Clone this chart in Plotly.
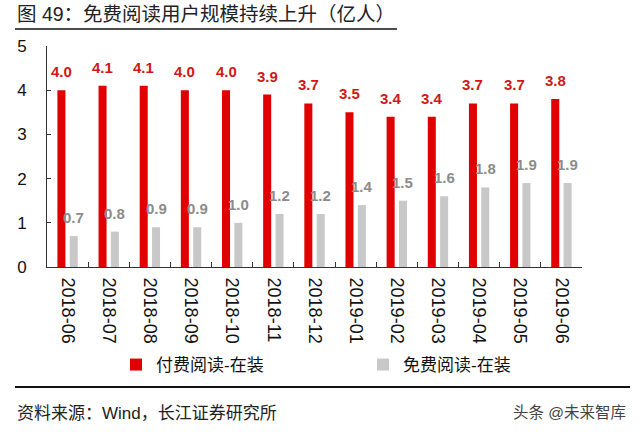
import plotly.graph_objects as go

categories = ["2018-06", "2018-07", "2018-08", "2018-09", "2018-10", "2018-11", "2018-12",
              "2019-01", "2019-02", "2019-03", "2019-04", "2019-05", "2019-06"]
paid_values = [4.0, 4.1, 4.1, 4.0, 4.0, 3.9, 3.7, 3.5, 3.4, 3.4, 3.7, 3.7, 3.8]
free_values = [0.7, 0.8, 0.9, 0.9, 1.0, 1.2, 1.2, 1.4, 1.5, 1.6, 1.8, 1.9, 1.9]
series_names = ["付费阅读-在装", "免费阅读-在装"]
y_ticks = [0, 1, 2, 3, 4, 5]

title_text = "图 49：免费阅读用户规模持续上升（亿人）"
source_text = "资料来源：Wind，长江证券研究所"
watermark_text = "头条 @未来智库"

RED = "#E00000"
GRAY = "#C8C8C8"
FONT = "Arial, 'Liberation Sans', 'Noto Sans CJK SC', sans-serif"

W, H = 640, 436
ML, MR, MT, MB = 47, 58, 46, 169
PW = W - ML - MR
PH = H - MT - MB
BARGAP = 0.4
GROUPGAP = 0.35


def px_x(px):
    return (px - ML) / PW


def px_y(py):
    return (H - MB - py) / PH


fig = go.Figure()
fig.add_bar(x=categories, y=paid_values, name=series_names[0], marker_color=RED,
            marker_line_width=0)
fig.add_bar(x=categories, y=free_values, name=series_names[1], marker_color=GRAY,
            marker_line_width=0)

# value labels above bars, shifted to each bar's centre
cat_w = PW / len(categories)
slot = cat_w * (1 - BARGAP) / 2
shift = slot / 2
annotations = []
for c, v in zip(categories, paid_values):
    annotations.append(dict(x=c, y=v, text=f"{v:.1f}", showarrow=False, xshift=-shift,
                            yanchor="bottom", yshift=8,
                            font=dict(family=FONT, size=15, color="#D01818", weight="bold")))
for c, v in zip(categories, free_values):
    annotations.append(dict(x=c, y=v, text=f"{v:.1f}", showarrow=False, xshift=shift,
                            yanchor="bottom", yshift=8,
                            font=dict(family=FONT, size=15, color="#8C8C8C", weight="bold")))

annotations.append(dict(xref="paper", yref="paper", x=px_x(15), y=px_y(14), text=title_text,
                        showarrow=False, xanchor="left", yanchor="middle",
                        font=dict(family=FONT, size=19.5, color="#222222")))
annotations.append(dict(xref="paper", yref="paper", x=px_x(15), y=px_y(413), text=source_text,
                        showarrow=False, xanchor="left", yanchor="middle",
                        font=dict(family=FONT, size=17, color="#222222")))
annotations.append(dict(xref="paper", yref="paper", x=px_x(628), y=px_y(412), text=watermark_text,
                        showarrow=False, xanchor="right", yanchor="middle",
                        font=dict(family=FONT, size=15.5, color="#444444")))

shapes = [
    dict(type="line", xref="paper", yref="paper", x0=px_x(15), x1=px_x(397),
         y0=px_y(29), y1=px_y(29), line=dict(color="#111111", width=1.5)),
    dict(type="line", xref="paper", yref="paper", x0=px_x(15), x1=px_x(630),
         y0=px_y(387), y1=px_y(387), line=dict(color="#111111", width=2)),
]

fig.update_layout(
    width=W, height=H,
    margin=dict(l=ML, r=MR, t=MT, b=MB, pad=0),
    paper_bgcolor="white", plot_bgcolor="white",
    barmode="group", bargap=BARGAP, bargroupgap=GROUPGAP,
    font=dict(family=FONT, size=17, color="#111111"),
    showlegend=True,
    legend=dict(orientation="h", x=px_x(116), y=px_y(365), xanchor="left", yanchor="middle",
                font=dict(family=FONT, size=17, color="#111111"),
                entrywidth=202, entrywidthmode="pixels", bgcolor="rgba(0,0,0,0)"),
    annotations=annotations,
    shapes=shapes,
)
fig.update_xaxes(
    type="category", showline=True, linecolor="#333333", linewidth=1,
    ticks="inside", ticklen=5, tickcolor="#333333", tickson="boundaries",
    tickangle=90, tickfont=dict(family=FONT, size=18, color="#111111"),
    ticklabelstandoff=6, showgrid=False, zeroline=False,
)
fig.update_yaxes(
    range=[0, 5], tickvals=y_ticks, showline=True, linecolor="#333333", linewidth=1,
    ticks="inside", ticklen=4, tickcolor="#333333",
    tickfont=dict(family=FONT, size=17, color="#111111"),
    ticklabelstandoff=16, showgrid=False, zeroline=False,
)

fig.write_html("out.html")
